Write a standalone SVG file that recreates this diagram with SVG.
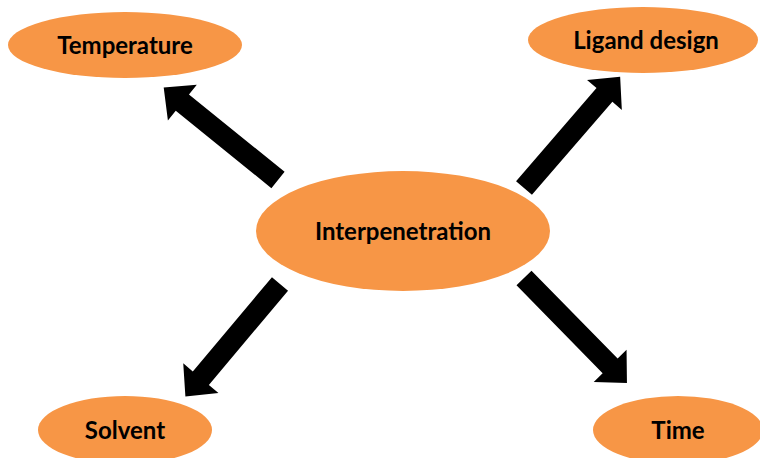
<svg xmlns="http://www.w3.org/2000/svg" xmlns:xlink="http://www.w3.org/1999/xlink" width="760" height="458" viewBox="0 0 760 458">
<style>
.node{fill:#F79646;}
.lbl{font-family:Lato,"Open Sans","Liberation Sans",sans-serif;font-weight:bold;font-size:24px;fill:#000;text-anchor:middle;}
.arrow{fill:#000;}
</style>
<defs>
<path id="arr" d="M0,-10.5 L123,-10.5 L123,-23 L147,0 L123,23 L123,10.5 L0,10.5 Z"/>
</defs>
<rect width="760" height="458" fill="#fff"/>
<g id="connectors" class="arrow">
<use xlink:href="#arr" transform="translate(278,180) rotate(-141.04)"/>
<use xlink:href="#arr" transform="translate(524,188) rotate(-49.15)"/>
<use xlink:href="#arr" transform="translate(280,284) rotate(130.06)"/>
<use xlink:href="#arr" transform="translate(524,278) rotate(45.55)"/>
</g>
<g id="temperature"><ellipse class="node" cx="125" cy="45" rx="117" ry="33"/><text class="lbl" x="125" y="54">Temperature</text></g>
<g id="ligand"><ellipse class="node" cx="643" cy="40" rx="115" ry="33"/><text class="lbl" x="646" y="49">Ligand design</text></g>
<g id="interpenetration"><ellipse class="node" cx="403" cy="231" rx="147" ry="60"/><text class="lbl" x="403" y="240">Interpenetration</text></g>
<g id="solvent"><ellipse class="node" cx="125" cy="430" rx="87" ry="34"/><text class="lbl" x="125" y="439">Solvent</text></g>
<g id="time"><ellipse class="node" cx="678" cy="430" rx="85" ry="34"/><text class="lbl" x="678" y="439">Time</text></g>
</svg>
